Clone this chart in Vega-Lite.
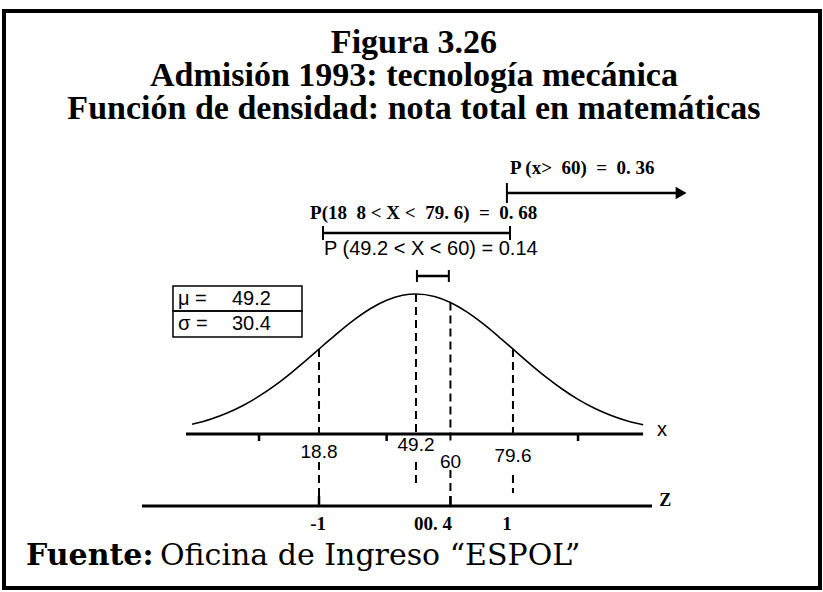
{
  "$schema": "https://vega.github.io/schema/vega-lite/v6.json",
  "width": 816,
  "height": 577,
  "autosize": "none",
  "padding": {"left": 4, "top": 11, "right": 3, "bottom": 4},
  "background": "white",
  "config": {"view": {"stroke": "black", "strokeWidth": 4}},
  "datasets": {
    "titles": [
      {"x": 48.57, "y": 0.035715, "label": "Figura 3.26"},
      {"x": 48.57, "y": 0.032621, "label": "Admisión 1993: tecnología mecánica"},
      {"x": 48.57, "y": 0.029528, "label": "Función de densidad: nota total en matemáticas"}
    ],
    "curve": [
      {"x": -21, "y": 0.000912}, {"x": -15, "y": 0.001411}, {"x": -10, "y": 0.001971}, {"x": -5, "y": 0.002677},
      {"x": 0, "y": 0.003545}, {"x": 5, "y": 0.00456}, {"x": 10, "y": 0.005717}, {"x": 15, "y": 0.00697},
      {"x": 20, "y": 0.008274}, {"x": 25, "y": 0.00956}, {"x": 30, "y": 0.01075}, {"x": 35, "y": 0.011766},
      {"x": 40, "y": 0.012535}, {"x": 45, "y": 0.012998}, {"x": 49.2, "y": 0.013123}, {"x": 55, "y": 0.012887},
      {"x": 60, "y": 0.01232}, {"x": 65, "y": 0.011466}, {"x": 70, "y": 0.010384}, {"x": 75, "y": 0.009155},
      {"x": 80, "y": 0.007854}, {"x": 85, "y": 0.00656}, {"x": 90, "y": 0.005332}, {"x": 95, "y": 0.004218},
      {"x": 100, "y": 0.003248}, {"x": 105, "y": 0.002434}, {"x": 110, "y": 0.001776}, {"x": 115, "y": 0.001261},
      {"x": 120.4, "y": 0.000872}
    ],
    "guides": [
      {"x": 18.8, "y": 0.007959, "y2": 0},
      {"x": 49.2, "y": 0.013123, "y2": 0},
      {"x": 60, "y": 0.01232, "y2": -0.0006},
      {"x": 79.6, "y": 0.007959, "y2": 0},
      {"x": 18.8, "y": -0.002625, "y2": -0.006749},
      {"x": 49.2, "y": -0.002625, "y2": -0.004781},
      {"x": 60, "y": -0.003375, "y2": -0.006749},
      {"x": 79.6, "y": -0.003843, "y2": -0.005531}
    ],
    "axes": [
      {"x": -22.9, "x2": 120.4, "y": 0},
      {"x": -36.7, "x2": 123.2, "y": -0.006749}
    ],
    "ticks": [
      {"x": 0, "y": 0, "y2": -0.000656},
      {"x": 40, "y": 0, "y2": -0.000656},
      {"x": 100, "y": 0, "y2": -0.000656},
      {"x": 18.8, "y": -0.005812, "y2": -0.006749},
      {"x": 60, "y": -0.005812, "y2": -0.006749}
    ],
    "xlabels": [
      {"x": 18.8, "y": -0.001687, "label": "18.8"},
      {"x": 49.2, "y": -0.001031, "label": "49.2"},
      {"x": 60, "y": -0.002625, "label": "60"},
      {"x": 79.6, "y": -0.002062, "label": "79.6"}
    ],
    "zlabels": [
      {"x": 18.5, "y": -0.008436, "label": "-1"},
      {"x": 54.5, "y": -0.008436, "label": "00. 4"},
      {"x": 77.7, "y": -0.008436, "label": "1"}
    ],
    "xname": [{"x": 126.3, "y": 0.000375, "label": "x"}],
    "zname": [{"x": 127.3, "y": -0.00628, "label": "Z"}],
    "bars": [
      {"x": 77.7, "x2": 132.3, "y": 0.022591},
      {"x": 20.05, "x2": 78.67, "y": 0.018841},
      {"x": 49.5, "x2": 59.5, "y": 0.014811}
    ],
    "barends": [
      {"x": 77.7, "y": 0.023528, "y2": 0.021654},
      {"x": 20.05, "y": 0.019498, "y2": 0.018185},
      {"x": 78.67, "y": 0.019498, "y2": 0.018185},
      {"x": 49.5, "y": 0.015373, "y2": 0.014248},
      {"x": 59.5, "y": 0.015373, "y2": 0.014248}
    ],
    "arrowhead": [{"x": 132.3, "y": 0.022591}],
    "probserif": [
      {"x": 78.67, "y": 0.024934, "label": "P (x>\u00a0\u00a060)\u00a0\u00a0=\u00a0\u00a00.\u00a036"},
      {"x": 16.0, "y": 0.020716, "label": "P(18\u00a0\u00a08\u00a0<\u00a0X\u00a0<\u00a0\u00a079.\u00a06)\u00a0\u00a0=\u00a0\u00a00.\u00a068"}
    ],
    "probsans": [
      {"x": 20.36, "y": 0.017342, "label": "P (49.2 < X < 60) = 0.14"}
    ],
    "box": [
      {"x": -26.98, "x2": 13.46, "y": 0.013873, "y2": 0.01153},
      {"x": -26.98, "x2": 13.46, "y": 0.01153, "y2": 0.009093}
    ],
    "boxtext": [
      {"x": -25.4, "y": 0.012655, "label": "μ ="},
      {"x": -8.48, "y": 0.012655, "label": "49.2"},
      {"x": -25.4, "y": 0.010311, "label": "σ ="},
      {"x": -8.48, "y": 0.010311, "label": "30.4"}
    ],
    "sourcebold": [{"x": -73.06, "y": -0.01228, "label": "Fuente:"}],
    "source": [{"x": -31.05, "y": -0.01228, "label": "Oficina de Ingreso “ESPOL”"}]
  },
  "encoding": {
    "x": {"field": "x", "type": "quantitative", "scale": {"domain": [-79.95, 175.85], "nice": false, "zero": false}, "axis": null},
    "y": {"field": "y", "type": "quantitative", "scale": {"domain": [-0.014436, 0.039651], "nice": false, "zero": false}, "axis": null}
  },
  "layer": [
    {"data": {"name": "titles"}, "mark": {"type": "text", "font": "Liberation Serif", "fontWeight": "bold", "fontSize": 34, "align": "center", "baseline": "alphabetic", "color": "black"}, "encoding": {"text": {"field": "label"}}},
    {"data": {"name": "curve"}, "mark": {"type": "line", "color": "black", "strokeWidth": 1.6, "interpolate": "monotone"}},
    {"data": {"name": "guides"}, "mark": {"type": "rule", "color": "black", "strokeWidth": 2, "strokeDash": [8, 5]}, "encoding": {"y2": {"field": "y2"}}},
    {"data": {"name": "axes"}, "mark": {"type": "rule", "color": "black", "strokeWidth": 3}, "encoding": {"x2": {"field": "x2"}}},
    {"data": {"name": "ticks"}, "mark": {"type": "rule", "color": "black", "strokeWidth": 2.5}, "encoding": {"y2": {"field": "y2"}}},
    {"data": {"name": "xlabels"}, "mark": {"type": "text", "font": "Liberation Sans", "fontSize": 19, "align": "center", "baseline": "middle", "color": "black"}, "encoding": {"text": {"field": "label"}}},
    {"data": {"name": "zlabels"}, "mark": {"type": "text", "font": "Liberation Serif", "fontWeight": "bold", "fontSize": 19, "align": "center", "baseline": "middle", "color": "black"}, "encoding": {"text": {"field": "label"}}},
    {"data": {"name": "xname"}, "mark": {"type": "text", "font": "Liberation Sans", "fontSize": 20, "align": "center", "baseline": "middle", "color": "black"}, "encoding": {"text": {"field": "label"}}},
    {"data": {"name": "zname"}, "mark": {"type": "text", "font": "Liberation Serif", "fontWeight": "bold", "fontSize": 18, "align": "center", "baseline": "middle", "color": "black"}, "encoding": {"text": {"field": "label"}}},
    {"data": {"name": "bars"}, "mark": {"type": "rule", "color": "black", "strokeWidth": 2.5}, "encoding": {"x2": {"field": "x2"}}},
    {"data": {"name": "barends"}, "mark": {"type": "rule", "color": "black", "strokeWidth": 2}, "encoding": {"y2": {"field": "y2"}}},
    {"data": {"name": "arrowhead"}, "mark": {"type": "point", "shape": "triangle-right", "filled": true, "color": "black", "size": 160, "opacity": 1}},
    {"data": {"name": "probserif"}, "mark": {"type": "text", "font": "Liberation Serif", "fontWeight": "bold", "fontSize": 19, "align": "left", "baseline": "middle", "color": "black"}, "encoding": {"text": {"field": "label"}}},
    {"data": {"name": "probsans"}, "mark": {"type": "text", "font": "Liberation Sans", "fontSize": 20, "align": "left", "baseline": "middle", "color": "black"}, "encoding": {"text": {"field": "label"}}},
    {"data": {"name": "box"}, "mark": {"type": "rect", "fill": null, "fillOpacity": 0, "stroke": "black", "strokeWidth": 1.5}, "encoding": {"x2": {"field": "x2"}, "y2": {"field": "y2"}}},
    {"data": {"name": "boxtext"}, "mark": {"type": "text", "font": "Liberation Sans", "fontSize": 20, "align": "left", "baseline": "middle", "color": "black"}, "encoding": {"text": {"field": "label"}}},
    {"data": {"name": "sourcebold"}, "mark": {"type": "text", "font": "DejaVu Serif", "fontWeight": "bold", "fontSize": 30, "align": "left", "baseline": "alphabetic", "color": "black"}, "encoding": {"text": {"field": "label"}}},
    {"data": {"name": "source"}, "mark": {"type": "text", "font": "DejaVu Serif", "fontSize": 30, "align": "left", "baseline": "alphabetic", "color": "black"}, "encoding": {"text": {"field": "label"}}}
  ]
}
